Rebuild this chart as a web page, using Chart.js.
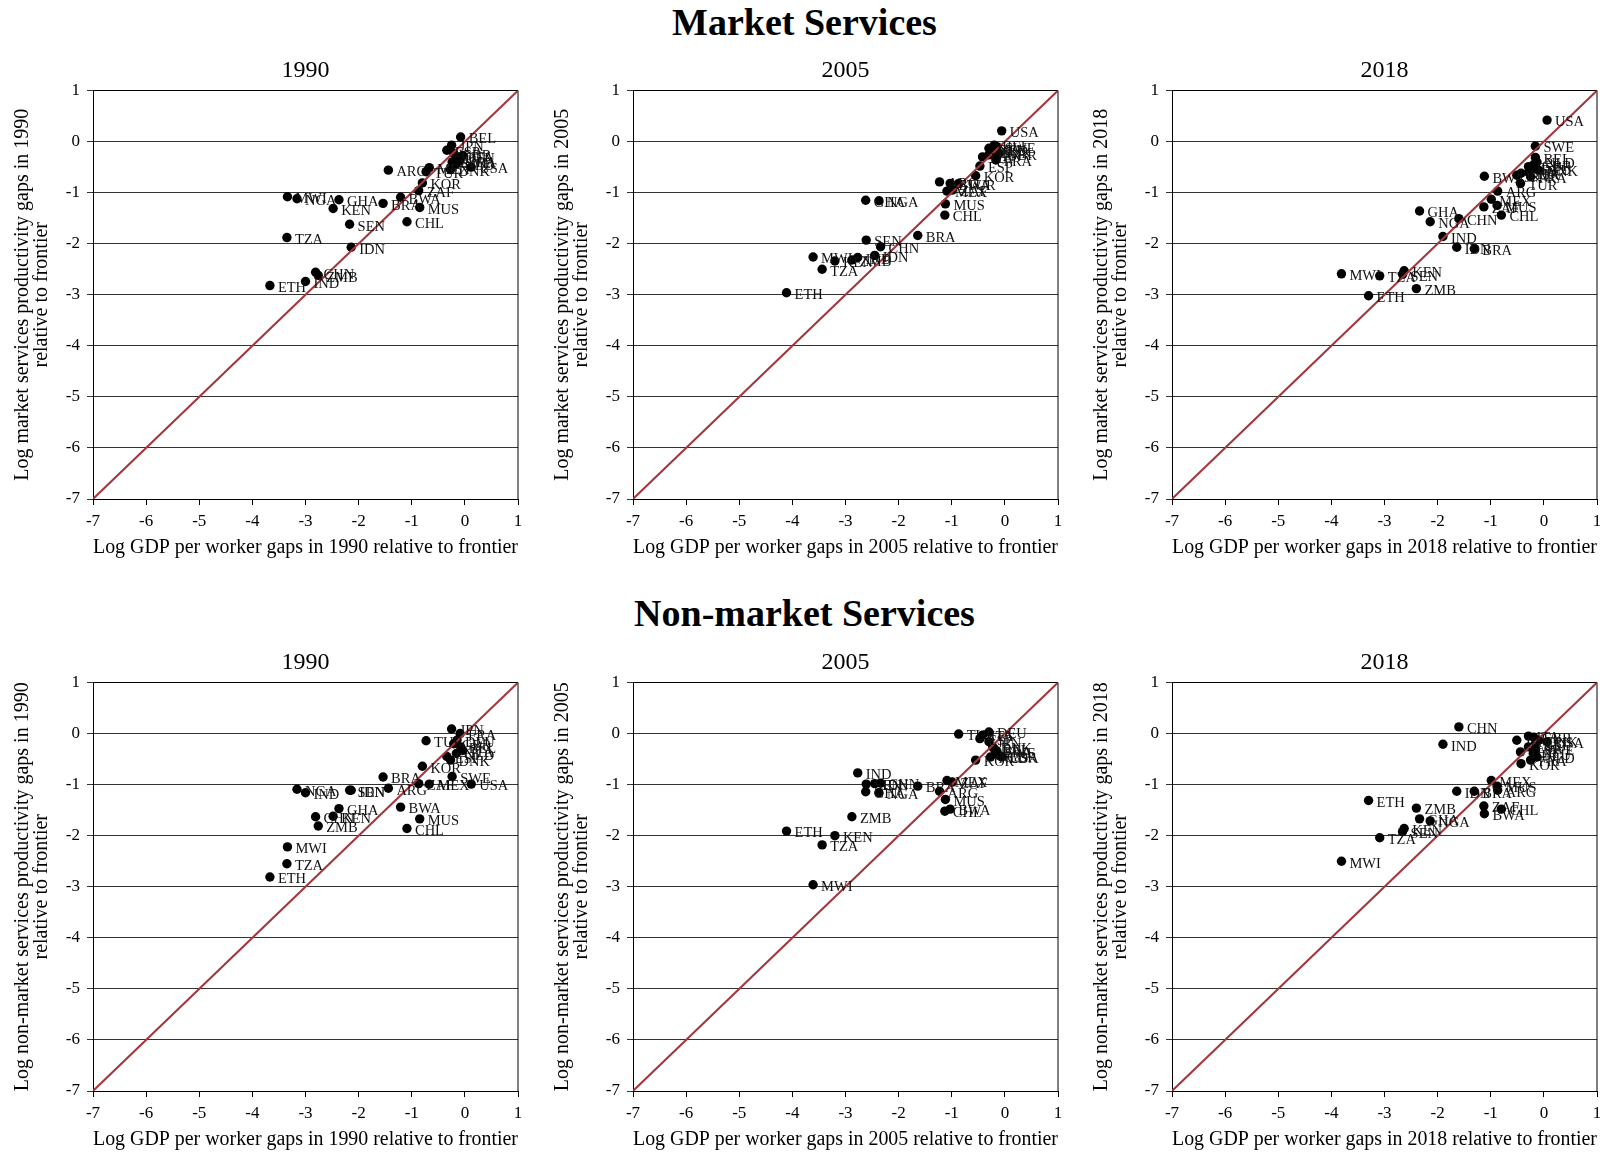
<!DOCTYPE html>
<html>
<head>
<meta charset="utf-8">
<title>Market and non-market services productivity gaps</title>
<script src="https://cdn.jsdelivr.net/npm/chart.js@4.4.1/dist/chart.umd.min.js"></script>
<style>
  html, body { margin: 0; padding: 0; background: #fff; overflow: hidden; }
  body { width: 1600px; height: 1152px; position: relative; font-family: "Liberation Serif", "Times New Roman", serif; }
  .head { position: absolute; left: 0; width: 1609px; text-align: center; font-weight: bold; font-size: 38px; line-height: 38px; color: #000; }
  canvas { position: absolute; }
</style>
</head>
<body>
<div class="head" style="top:3px">Market Services</div>
<div class="head" style="top:594px">Non-market Services</div>

<script>
// country codes, same order in every array below
const countries = ['ARG','BEL','BRA','BWA','CHL','CHN','DEU','DNK','ESP','ETH','FRA','GBR','GHA','IDN','IND','ITA',
                   'JPN','KEN','KOR','MEX','MUS','MWI','NGA','NLD','SEN','SWE','TUR','TZA','USA','ZAF','ZMB'];

// log GDP per worker gap to the frontier
const gdp1990 = [-1.44,-0.08,-1.54,-1.21,-1.09,-2.81,-0.15,-0.27,-0.34,-3.67,-0.09,-0.21,-2.37,-2.14,-3.00,-0.04,
                 -0.25,-2.48,-0.80,-0.67,-0.85,-3.34,-3.16,-0.16,-2.17,-0.24,-0.73,-3.35,0.12,-0.87,-2.76];
const gdp2005 = [-1.23,-0.20,-1.64,-1.03,-1.13,-2.34,-0.30,-0.23,-0.47,-4.11,-0.17,-0.11,-2.62,-2.45,-2.77,-0.42,
                 -0.30,-3.20,-0.55,-1.09,-1.12,-3.61,-2.37,-0.27,-2.61,-0.15,-0.87,-3.44,-0.06,-0.99,-2.88];
const gdp2018 = [-0.87,-0.16,-1.31,-1.12,-0.80,-1.60,-0.20,-0.10,-0.29,-3.30,-0.25,-0.19,-2.34,-1.64,-1.90,-0.29,
                 -0.51,-2.63,-0.43,-0.99,-0.88,-3.81,-2.14,-0.13,-2.66,-0.16,-0.44,-3.09,0.06,-1.13,-2.40];

// log market services productivity gap
const market1990 = [-0.56,0.09,-1.21,-1.09,-1.57,-2.56,-0.30,-0.55,-0.17,-2.82,-0.37,-0.23,-1.14,-2.07,-2.74,-0.27,
                    -0.07,-1.31,-0.81,-0.51,-1.29,-1.08,-1.12,-0.44,-1.62,-0.40,-0.59,-1.88,-0.50,-0.96,-2.62];
const market2005 = [-0.79,-0.07,-1.84,-0.82,-1.44,-2.06,-0.13,-0.20,-0.48,-2.96,-0.36,-0.23,-1.15,-2.23,-2.27,-0.30,
                    -0.26,-2.34,-0.67,-0.97,-1.22,-2.26,-1.16,-0.15,-1.93,-0.10,-0.82,-2.50,0.21,-0.95,-2.32];
const market2018 = [-0.97,-0.31,-2.10,-0.68,-1.44,-1.51,-0.53,-0.56,-0.49,-3.02,-0.69,-0.45,-1.36,-2.07,-1.86,-0.60,
                    -0.66,-2.53,-0.62,-1.13,-1.25,-2.59,-1.57,-0.40,-2.60,-0.09,-0.82,-2.63,0.42,-1.28,-2.88];

// log non-market services productivity gap
const nonMarket1990 = [-1.07,-0.26,-0.85,-1.44,-1.86,-1.63,-0.13,-0.52,-0.45,-2.81,0.00,-0.20,-1.47,-1.11,-1.16,-0.33,
                       0.09,-1.62,-0.64,-0.99,-1.67,-2.22,-1.09,-0.39,-1.11,-0.84,-0.14,-2.55,-0.99,-0.98,-1.81];
const nonMarket2005 = [-1.13,-0.30,-1.03,-1.48,-1.52,-0.97,0.03,-0.26,-0.10,-1.91,-0.33,-0.43,-1.14,-0.98,-0.77,-0.03,
                       -0.16,-2.00,-0.52,-0.92,-1.29,-2.96,-1.16,-0.46,-0.99,-0.35,-0.01,-2.18,-0.46,-0.95,-1.63];
const nonMarket2018 = [-1.11,-0.20,-1.13,-1.57,-1.48,0.13,-0.39,-0.13,-0.26,-1.31,-0.52,-0.07,-1.67,-1.13,-0.21,-0.05,
                       -0.13,-1.86,-0.59,-0.92,-1.03,-2.50,-1.71,-0.46,-1.92,-0.30,-0.36,-2.04,-0.16,-1.42,-1.46];

const axisTicks = [-7, -6, -5, -4, -3, -2, -1, 0, 1];

const SERIF = '"Liberation Serif", "Times New Roman", serif';
const colLeft = [0, 540, 1079];
const rowTop = [46, 638];

const panels = [
  { sector: 'market', year: 1990, gdp: gdp1990, gap: market1990 },
  { sector: 'market', year: 2005, gdp: gdp2005, gap: market2005 },
  { sector: 'market', year: 2018, gdp: gdp2018, gap: market2018 },
  { sector: 'non-market', year: 1990, gdp: gdp1990, gap: nonMarket1990 },
  { sector: 'non-market', year: 2005, gdp: gdp2005, gap: nonMarket2005 },
  { sector: 'non-market', year: 2018, gdp: gdp2018, gap: nonMarket2018 }
];

// closes the box on top and right side of the plot
const frame = {
  id: 'frame',
  beforeDatasetsDraw(chart) {
    const { left, top, right, bottom } = chart.chartArea;
    const ctx = chart.ctx;
    ctx.save();
    ctx.strokeStyle = '#000';
    ctx.lineWidth = 1;
    ctx.beginPath();
    ctx.moveTo(left, top);
    ctx.lineTo(right, top);
    ctx.lineTo(right, bottom);
    ctx.stroke();
    ctx.restore();
  }
};

// country code next to each marker
const codeLabels = {
  id: 'codeLabels',
  afterDatasetsDraw(chart) {
    const ds = chart.data.datasets[1];
    const meta = chart.getDatasetMeta(1);
    const ctx = chart.ctx;
    ctx.save();
    ctx.font = '14.5px ' + SERIF;
    ctx.fillStyle = '#111';
    ctx.textAlign = 'left';
    ctx.textBaseline = 'middle';
    meta.data.forEach((pt, i) => {
      ctx.fillText(ds.codes[i], pt.x + 8, pt.y + 2.5);
    });
    ctx.restore();
  }
};

const tickFont = { family: SERIF, size: 17, lineHeight: 1.2 };
const titleFont = { family: SERIF, size: 20, lineHeight: 0.95 };

panels.forEach((p, k) => {
  const canvas = document.createElement('canvas');
  canvas.width = 524;
  canvas.height = 513;
  canvas.style.left = colLeft[k % 3] + 'px';
  canvas.style.top = rowTop[Math.floor(k / 3)] + 'px';
  document.body.appendChild(canvas);

  new Chart(canvas.getContext('2d'), {
    type: 'scatter',
    data: {
      datasets: [
        {
          // 45 degree line
          data: [{ x: -7, y: -7 }, { x: 1, y: 1 }],
          showLine: true,
          borderColor: '#a3363b',
          borderWidth: 2,
          pointRadius: 0
        },
        {
          data: countries.map((c, i) => ({ x: p.gdp[i], y: p.gap[i] })),
          codes: countries,
          backgroundColor: '#000',
          borderColor: '#000',
          borderWidth: 0,
          pointRadius: 4.7
        }
      ]
    },
    options: {
      responsive: false,
      animation: false,
      layout: { padding: { top: 0, right: 6, bottom: 0, left: 0 } },
      plugins: {
        legend: { display: false },
        tooltip: { enabled: false },
        title: {
          display: true,
          fullSize: false,
          text: String(p.year),
          color: '#000',
          font: { family: SERIF, size: 24, weight: 'normal', lineHeight: 1 },
          padding: { top: 12.5, bottom: 8 }
        }
      },
      scales: {
        x: {
          type: 'linear',
          min: -7,
          max: 1,
          afterFit: s => { s.height = 60; s.paddingLeft = 0; s.paddingRight = 0; },
          afterBuildTicks: s => { s.ticks = axisTicks.map(v => ({ value: v })); },
          ticks: { color: '#000', font: tickFont, padding: 6, maxRotation: 0 },
          grid: { drawOnChartArea: false, tickLength: 6, color: '#000' },
          border: { color: '#000', width: 1 },
          title: {
            display: true,
            text: 'Log GDP per worker gaps in ' + p.year + ' relative to frontier',
            color: '#000',
            font: titleFont,
            padding: { top: 0, bottom: 1.5 }
          }
        },
        y: {
          type: 'linear',
          min: -7,
          max: 1,
          afterFit: s => { s.width = 93; s.paddingTop = 0; s.paddingBottom = 0; },
          afterBuildTicks: s => { s.ticks = axisTicks.map(v => ({ value: v })); },
          ticks: { color: '#000', font: tickFont, padding: 7 },
          grid: { tickLength: 6, color: '#333' },
          border: { color: '#000', width: 1 },
          title: {
            display: true,
            text: ['Log ' + p.sector + ' services productivity gaps in ' + p.year, 'relative to frontier'],
            color: '#000',
            font: titleFont,
            padding: { top: 13, bottom: 0 }
          }
        }
      }
    },
    plugins: [frame, codeLabels]
  });
});
</script>
</body>
</html>
